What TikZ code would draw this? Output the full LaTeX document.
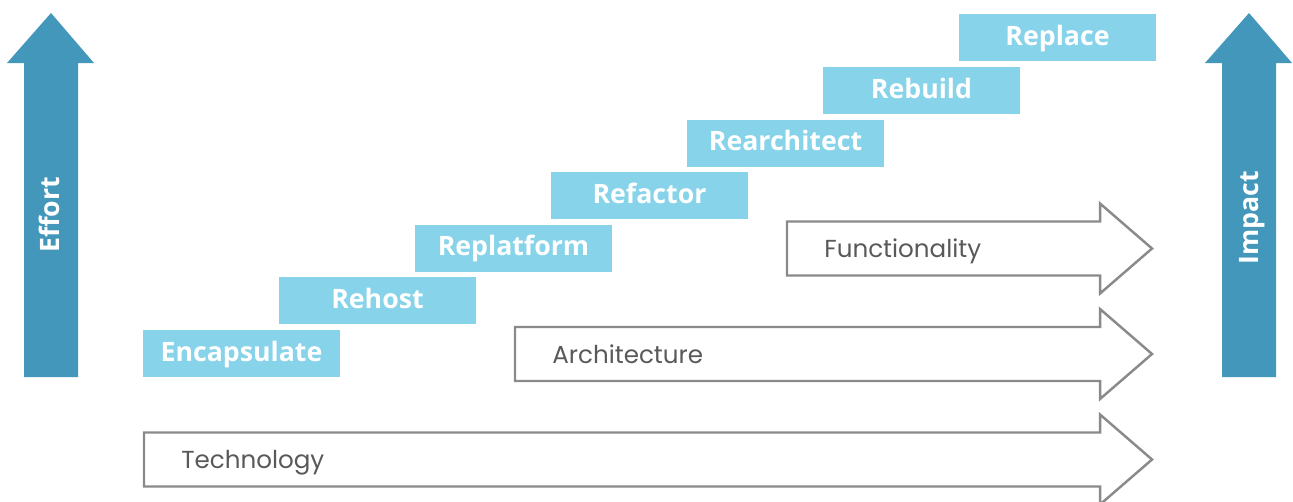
\documentclass[tikz,border=0pt]{standalone}
\usepackage{fontspec}
\newfontfamily\labelfont{Open Sans}
\newfontfamily\axisfont{Poppins}
\usetikzlibrary{positioning}
\definecolor{effortblue}{HTML}{4397BB}
\definecolor{stepblue}{HTML}{87D3EA}
\definecolor{outlinegray}{HTML}{8A8A8A}
\definecolor{textgray}{HTML}{595959}
\tikzset{
  stepbox/.style={fill=stepblue, minimum width=3.94cm, minimum height=0.94cm, inner sep=0pt,
    text height=0.3cm, text depth=0cm,
    text=white, font=\labelfont\bfseries\fontsize{15.2}{18}\selectfont},
  bigarrow/.style={fill=effortblue},
  outarrow/.style={draw=outlinegray, line width=1.4pt, fill=white},
  axislabel/.style={text=textgray, anchor=base west, inner sep=0pt, font=\axisfont\fontsize{14}{17}\selectfont},
  sidelabel/.style={text=white, rotate=90, inner sep=0pt, text height=0.36cm, text depth=0cm,
    font=\labelfont\bfseries\fontsize{15.2}{18}\selectfont}
}
\begin{document}
\begin{tikzpicture}[x=0.02cm, y=-0.02cm]
\useasboundingbox (0,0) rectangle (1293,501);
% Side arrows
\fill[bigarrow] (24,377) -- (24,63) -- (7,63) -- (51,13) -- (94,63) -- (78,63) -- (78,377) -- cycle;
\fill[bigarrow] (1222,377) -- (1222,63) -- (1205,63) -- (1249,13) -- (1292,63) -- (1276,63) -- (1276,377) -- cycle;
\node[sidelabel] (effort) at (51,215) {Effort};
\node[sidelabel] (impact) at (1249,218) {Impact};

% Outline arrows
\foreach \xs/\yc/\lab in {144/459.5/Technology, 515/354/Architecture, 787/248.5/Functionality}{
  \draw[outarrow] ({\xs},{\yc-27}) -- ({1100},{\yc-27}) -- ({1100},{\yc-45}) -- ({1152},{\yc})
    -- ({1100},{\yc+45}) -- ({1100},{\yc+27}) -- ({\xs},{\yc+27}) -- cycle;
  \node[axislabel] (\lab) at ({\xs+37},{\yc+9}) {\lab};
}

% Steps
\foreach \name [count=\i from 0] in {Encapsulate, Rehost, Replatform, Refactor, Rearchitect, Rebuild, Replace}
  \node[stepbox] (step\i) at ({241.5+136*\i},{353.5-52.6*\i}) {\name};
\end{tikzpicture}
\end{document}
